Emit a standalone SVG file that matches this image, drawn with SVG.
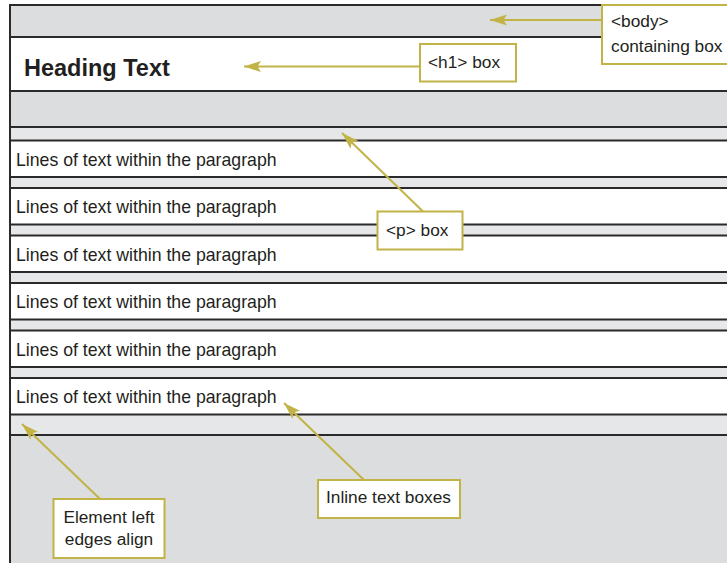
<svg xmlns="http://www.w3.org/2000/svg" width="727" height="563" viewBox="0 0 727 563">
  <style>
    .box { stroke: #2a2a2a; stroke-width: 2; }
    .body { fill: #dcddde; }
    .block { fill: #ffffff; }
    .para { fill: #e6e7e8; }
    .inline { fill: #ffffff; }
    .txt { font-family: "Liberation Sans", Arial, sans-serif; font-size: 17.7px; fill: #231f20; }
    .head { font-family: "Liberation Sans", Arial, sans-serif; font-size: 23.5px; font-weight: bold; fill: #231f20; }
    .callout rect { fill: #ffffff; stroke: #c2b346; stroke-width: 2; }
    .callout text { font-family: "Liberation Sans", Arial, sans-serif; font-size: 17.3px; fill: #231f20; }
    .conn { stroke: #c2b346; stroke-width: 2; fill: none; marker-end: url(#tip); }
  </style>
  <defs>
    <marker id="tip" markerUnits="userSpaceOnUse" viewBox="0 0 18 12" markerWidth="18" markerHeight="12" refX="17" refY="6" orient="auto">
      <path d="M17,6 L0,0.5 L3.5,6 L0,11.5 Z" fill="#c2b346"/>
    </marker>
  </defs>

  <rect width="727" height="563" fill="#ffffff"/>

  <!-- body containing box -->
  <g id="body-box">
    <rect class="box body" x="10" y="5" width="740" height="580"/>
  </g>

  <!-- h1 block -->
  <g id="h1-box">
    <rect class="box block" x="10" y="37" width="740" height="54"/>
    <text class="head" x="24" y="76">Heading Text</text>
  </g>

  <!-- paragraph block with its line boxes -->
  <g id="p-box">
    <rect class="box para" x="10" y="127" width="740" height="308"/>
  </g>
  <g id="line-1">
    <rect class="box inline" x="10" y="140.5" width="740" height="36.5"/>
    <text class="txt" x="16" y="165.5">Lines of text within the paragraph</text>
  </g>
  <g id="line-2">
    <rect class="box inline" x="10" y="188" width="740" height="36.5"/>
    <text class="txt" x="16" y="213">Lines of text within the paragraph</text>
  </g>
  <g id="line-3">
    <rect class="box inline" x="10" y="235.5" width="740" height="36.5"/>
    <text class="txt" x="16" y="260.5">Lines of text within the paragraph</text>
  </g>
  <g id="line-4">
    <rect class="box inline" x="10" y="283" width="740" height="36.5"/>
    <text class="txt" x="16" y="308">Lines of text within the paragraph</text>
  </g>
  <g id="line-5">
    <rect class="box inline" x="10" y="330.5" width="740" height="36.5"/>
    <text class="txt" x="16" y="355.5">Lines of text within the paragraph</text>
  </g>
  <g id="line-6">
    <rect class="box inline" x="10" y="378" width="740" height="36.5"/>
    <text class="txt" x="16" y="403">Lines of text within the paragraph</text>
  </g>

  <!-- callout connectors -->
  <g id="connectors">
    <line class="conn" x1="602" y1="20" x2="490" y2="20"/>
    <line class="conn" x1="420" y1="66.5" x2="244" y2="66.5"/>
    <line class="conn" x1="423" y1="211.5" x2="342" y2="133"/>
    <line class="conn" x1="364" y1="480" x2="284" y2="403"/>
    <line class="conn" x1="100" y1="499" x2="22" y2="424"/>
  </g>

  <!-- callout labels -->
  <g id="label-body" class="callout">
    <rect x="602" y="5" width="140" height="59"/>
    <text x="611" y="27">&lt;body&gt;</text>
    <text x="611" y="52">containing box</text>
  </g>
  <g id="label-h1" class="callout">
    <rect x="420" y="44" width="96" height="37.5"/>
    <text x="428" y="68">&lt;h1&gt; box</text>
  </g>
  <g id="label-p" class="callout">
    <rect x="377.5" y="211.5" width="85" height="38"/>
    <text x="386" y="236">&lt;p&gt; box</text>
  </g>
  <g id="label-inline" class="callout">
    <rect x="318" y="480" width="142" height="38"/>
    <text x="326" y="503">Inline text boxes</text>
  </g>
  <g id="label-edges" class="callout">
    <rect x="53.5" y="499" width="111" height="59"/>
    <text x="109" y="523" text-anchor="middle">Element left</text>
    <text x="109" y="545" text-anchor="middle">edges align</text>
  </g>
</svg>
